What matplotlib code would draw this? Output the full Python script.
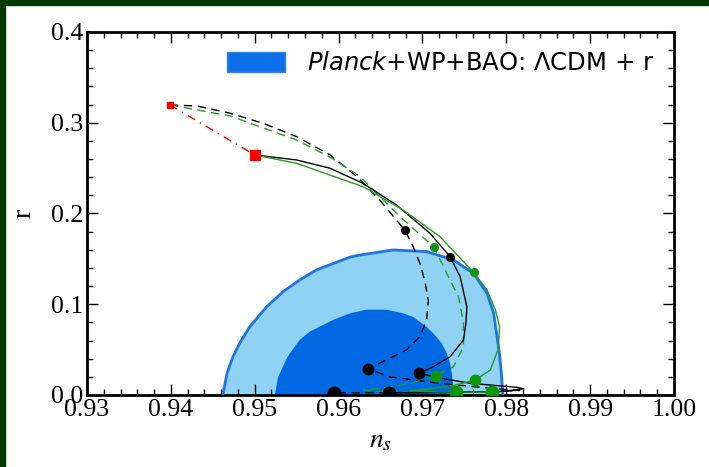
import matplotlib
matplotlib.use("Agg")
import matplotlib.pyplot as plt
from matplotlib.patches import Patch, Rectangle
from matplotlib.ticker import MultipleLocator

# Planck+WP+BAO LCDM + r contours (ns, r)
outer_ns = [0.9462, 0.9467, 0.9474, 0.9482, 0.9494, 0.9504, 0.9514, 0.9534, 0.9554,
            0.9574, 0.9594, 0.9614, 0.9626, 0.9665, 0.9705, 0.9737, 0.9761, 0.9777,
            0.9785, 0.9789, 0.9792, 0.9794, 0.9796]
outer_r = [0.0, 0.024, 0.042, 0.057, 0.075, 0.086, 0.097, 0.114, 0.127,
           0.138, 0.145, 0.152, 0.1543, 0.1598, 0.158, 0.1488, 0.134, 0.112,
           0.090, 0.0643, 0.045, 0.025, 0.0]
inner_ns = [0.9524, 0.9528, 0.9538, 0.9542, 0.9554, 0.9566, 0.9594, 0.9614, 0.9633,
            0.9657, 0.9677, 0.9689, 0.9705, 0.9713, 0.9723, 0.9729, 0.9733, 0.9735,
            0.9738]
inner_r = [0.0, 0.020, 0.040, 0.046, 0.061, 0.070, 0.083, 0.090, 0.094,
           0.094, 0.090, 0.086, 0.075, 0.068, 0.057, 0.046, 0.035, 0.024,
           0.0]

# model tracks
phi4_ns = [0.9399, 0.9500]
phi4_r = [0.3196, 0.2645]

black_dash_ns = [0.9399, 0.9431, 0.9471, 0.9510, 0.9550, 0.9590, 0.9622, 0.9649, 0.9679,
                 0.9689, 0.9697, 0.9703, 0.9707, 0.9705, 0.9697, 0.9681, 0.9657, 0.9635,
                 0.9661, 0.9721, 0.9781, 0.9816, 0.9790, 0.9700, 0.9594]
black_dash_r = [0.3196, 0.3185, 0.3104, 0.2994, 0.2847, 0.2645, 0.2406, 0.2149, 0.1818,
                0.1634, 0.1450, 0.1250, 0.1047, 0.0826, 0.0642, 0.0496, 0.0386, 0.0290,
                0.0200, 0.0129, 0.0074, 0.0050, 0.0036, 0.0028, 0.0024]

green_dash_ns = [0.9399, 0.9471, 0.9550, 0.9590, 0.9626, 0.9669, 0.9714, 0.9729, 0.9743,
                 0.9749, 0.9749, 0.9737, 0.9716, 0.9690, 0.9660, 0.9630, 0.9645, 0.9690,
                 0.9740]
green_dash_r = [0.3196, 0.3074, 0.2810, 0.2620, 0.2406, 0.2002, 0.1627, 0.1340, 0.1083,
                0.0790, 0.0532, 0.0312, 0.0213, 0.0140, 0.0085, 0.0055, 0.0040, 0.0032,
                0.0030]

black_solid_ns = [0.9500, 0.9550, 0.9590, 0.9629, 0.9669, 0.9709, 0.9733, 0.9745, 0.9753,
                  0.9752, 0.9749, 0.9733, 0.9713, 0.9696, 0.9725, 0.9757, 0.9812, 0.9821,
                  0.9790, 0.9720, 0.9660]
black_solid_r = [0.2645, 0.2590, 0.2498, 0.2333, 0.2094, 0.1782, 0.1524, 0.1304, 0.0973,
                 0.0800, 0.0606, 0.0422, 0.0312, 0.0239, 0.0180, 0.0129, 0.0085, 0.0068,
                 0.0036, 0.0028, 0.0024]

green_solid_ns = [0.9500, 0.9550, 0.9629, 0.9677, 0.9721, 0.9761, 0.9777, 0.9787, 0.9792,
                  0.9791, 0.9790, 0.9781, 0.9763, 0.9735, 0.9705, 0.9685, 0.9720, 0.9783]
green_solid_r = [0.2645, 0.2553, 0.2296, 0.2039, 0.1744, 0.1352, 0.1157, 0.0937, 0.0753,
                 0.0600, 0.0496, 0.0275, 0.0165, 0.0100, 0.0065, 0.0045, 0.0033, 0.0030]

# marked points: upper, middle, attractor end
black_up_ns, black_up_r = [0.9679, 0.9733], [0.1818, 0.1524]
black_mid_ns, black_mid_r = [0.9635, 0.9696], [0.0290, 0.0239]
black_end_ns, black_end_r = [0.9594, 0.9660], [0.0022, 0.0022]
green_up_ns, green_up_r = [0.9714, 0.9761], [0.1627, 0.1352]
green_mid_ns, green_mid_r = [0.9716, 0.9763], [0.0213, 0.0165]
green_end_ns, green_end_r = [0.9740, 0.9783], [0.0030, 0.0030]

LIGHT = "#8fd2f4"
DARK = "#0068e2"
EDGE = "#1f73e6"
GREEN = "#1e9e1e"
GREEN_DOT = "#0f960f"

plt.rcParams["mathtext.fontset"] = "dejavusans"
serif = "Liberation Serif"

fig = plt.figure(figsize=(7.09, 4.67), dpi=100, facecolor="white")
ax = fig.add_axes([0.1227, 0.1542, 0.8279, 0.7773])

# contours
ax.fill(outer_ns + [outer_ns[-1], outer_ns[0]], outer_r + [-0.01, -0.01],
        color=LIGHT, lw=0, zorder=1)
ax.fill(inner_ns + [inner_ns[-1], inner_ns[0]], inner_r + [-0.01, -0.01],
        color=DARK, lw=0, zorder=2)
ax.plot(outer_ns, outer_r, color=EDGE, lw=2, zorder=3)

# tracks
ax.plot(phi4_ns, phi4_r, color="red", lw=1, ls=(0, (6, 4, 1, 4)), zorder=4)
ax.plot(black_dash_ns, black_dash_r, color="black", lw=1, ls=(0, (6, 4)), zorder=5)
ax.plot(green_dash_ns, green_dash_r, color=GREEN, lw=1, ls=(0, (6, 4)), zorder=5)
ax.plot(black_solid_ns, black_solid_r, color="black", lw=1, zorder=5)
ax.plot(green_solid_ns, green_solid_r, color=GREEN, lw=1, zorder=5)

ax.plot(phi4_ns[:1], phi4_r[:1], "s", color="red", ms=5, zorder=6)
ax.plot(phi4_ns[1:], phi4_r[1:], "s", color="red", ms=7, zorder=6)
ax.plot(black_up_ns, black_up_r, "o", color="black", ms=5.5, zorder=6)
ax.plot(black_mid_ns, black_mid_r, "o", color="black", ms=7.5, zorder=6)
ax.plot(black_end_ns, black_end_r, "o", color="black", ms=9, zorder=6)
ax.plot(green_up_ns, green_up_r, "o", color=GREEN_DOT, ms=5.5, zorder=6)
ax.plot(green_mid_ns, green_mid_r, "o", color=GREEN_DOT, ms=7.5, zorder=6)
ax.plot(green_end_ns, green_end_r, "o", color=GREEN_DOT, ms=9, zorder=6)

ax.set_xlim(0.93, 1.00)
ax.set_ylim(0.0, 0.4)
ax.xaxis.set_major_locator(MultipleLocator(0.01))
ax.xaxis.set_minor_locator(MultipleLocator(0.002))
ax.yaxis.set_major_locator(MultipleLocator(0.1))
ax.yaxis.set_minor_locator(MultipleLocator(0.02))
ax.tick_params(which="both", direction="in", top=True, right=True, width=1.0)
ax.tick_params(which="major", length=8, pad=3, labelsize=18.5)
ax.tick_params(which="minor", length=4)
ax.set_xticklabels([f"{v:.2f}" for v in ax.get_xticks()], family=serif)
ax.set_yticklabels([f"{v:.1f}" for v in ax.get_yticks()], family=serif)
for s in ax.spines.values():
    s.set_linewidth(2)

ax.set_xlabel(r"$n_s$", fontsize=20, math_fontfamily="stix", labelpad=3)
ax.set_ylabel("r", fontsize=20, family=serif, labelpad=10)

handle = Patch(facecolor="#0a6fe8", edgecolor="#2a86f0", lw=1)
ax.legend([handle], [r"$\mathit{Planck}$+WP+BAO: $\Lambda$CDM + r"],
          loc="upper right", frameon=False, fontsize=17.5,
          handlelength=2.4, handleheight=0.9, handletextpad=0.9,
          borderaxespad=0.4)

# dark green frame on top and left edge
fig.patches.append(Rectangle((0, 0.989), 1, 0.011, transform=fig.transFigure,
                             color="#033a03", zorder=10))
fig.patches.append(Rectangle((0, 0), 0.0065, 1, transform=fig.transFigure,
                             color="#033a03", zorder=10))

fig.savefig("out.png", dpi=100, facecolor="white")
